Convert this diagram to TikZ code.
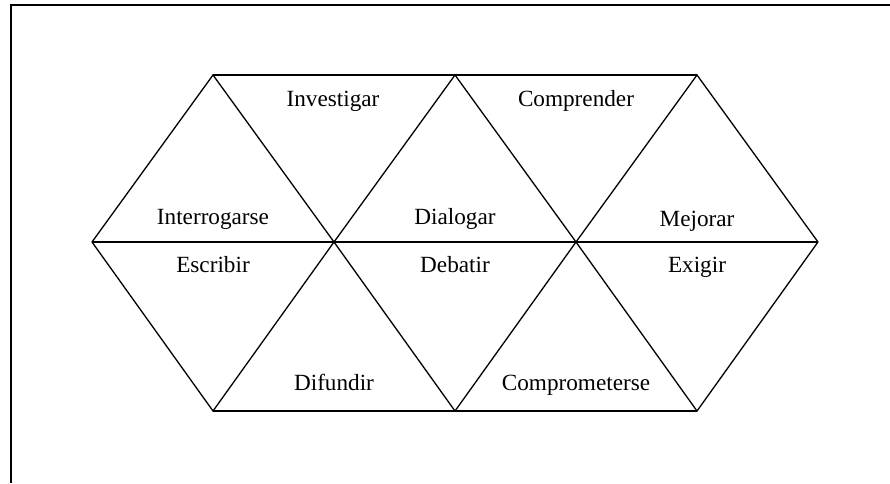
\documentclass[tikz,border=0pt]{standalone}
\usepackage{fontspec}
\setmainfont{Liberation Serif}
\usepackage{tikz}
\usetikzlibrary{calc}
\tikzstyle{word}=[%
  inner sep=0pt,
  text height=1.6ex,
  text depth=0.45ex,
  font=\fontsize{11.6}{14}\selectfont
]
\tikzstyle{edge}=[%
  line width=0.65pt
]

\begin{document}
\begin{tikzpicture}[x=0.5pt, y=-0.5pt]
      \useasboundingbox (0, 0) rectangle (890, 483);
      % frame, only top and left side visible
      \draw[line width=1pt] (11, 483) -- (11, 4.5) -- (890, 4.5);
      % corners of the hexagon
      \coordinate (l) at (92, 242);
      \coordinate (m1) at (334, 242);
      \coordinate (m2) at (576, 242);
      \coordinate (r) at (818, 242);
      \coordinate (t1) at (213, 75);
      \coordinate (t2) at (455, 75);
      \coordinate (t3) at (697, 75);
      \coordinate (b1) at (213, 411);
      \coordinate (b2) at (455, 411);
      \coordinate (b3) at (697, 411);
      \draw[edge] (t1) -- (t3);
      \draw[edge] (l) -- (r);
      \draw[edge] (b1) -- (b3);
      \draw[edge] (l) -- (t1) -- (m1) -- (t2) -- (m2) -- (t3) -- (r);
      \draw[edge] (l) -- (b1) -- (m1) -- (b2) -- (m2) -- (b3) -- (r);
      \foreach \name/\pos/\txt in {inv/{333,101}/Investigar, com/{576,101}/Comprender,
          int/{213,219}/Interrogarse, dia/{455,219}/Dialogar, mej/{697,221}/Mejorar,
          esc/{213,267}/Escribir, deb/{455,267}/Debatir, exi/{697,267}/Exigir,
          dif/{334,385}/Difundir, cpm/{576,385}/Comprometerse} {%
        \node[word] (\name) at (\pos) {\txt};
      }
    \end{tikzpicture}
\end{document}
